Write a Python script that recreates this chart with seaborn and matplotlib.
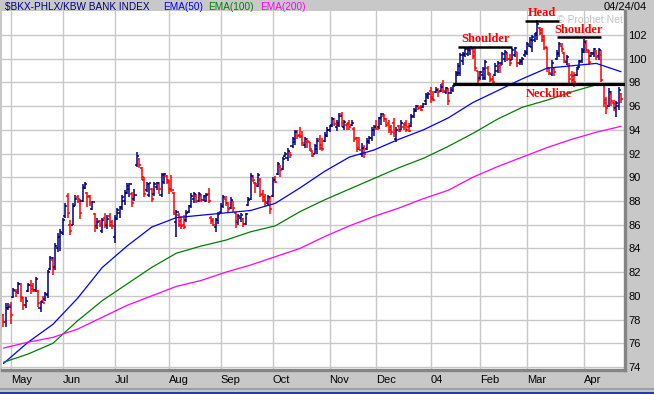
import matplotlib
matplotlib.use('Agg')
import matplotlib.pyplot as plt
import numpy as np
import pandas as pd
import seaborn as sns

# trading days shown on the chart (NYSE holidays removed)
start_date = '2003-04-28'
end_date = '2004-04-23'
holidays = ['2003-05-26', '2003-07-04', '2003-09-01', '2003-11-27', '2003-12-25',
            '2004-01-01', '2004-01-19', '2004-02-16', '2004-04-09']

# daily OHLC of $BKX
opens = [78.4, 77.8, 79.0, 79.2, 79.9, 80.4, 80.3, 81.0, 79.8, 79.2,
         80.4, 80.9, 80.8, 80.5, 80.4, 79.0, 79.6, 79.7, 80.1, 82.3,
         83.0, 82.4, 84.0, 85.0, 85.3, 86.7, 88.4, 86.0, 86.0, 87.6,
         88.3, 88.2, 88.0, 89.1, 88.7, 88.4, 87.3, 86.9, 85.9, 86.3,
         85.5, 86.6, 86.0, 86.7, 86.2, 85.0, 86.6, 87.0, 87.5, 88.0,
         88.7, 89.0, 88.6, 88.2, 91.0, 91.5, 90.8, 89.8, 88.9, 88.5,
         89.0, 88.6, 89.2, 89.4, 88.5, 89.6, 90.1, 89.6, 89.0, 88.7,
         86.2, 86.8, 86.3, 86.0, 86.4, 87.1, 87.6, 88.2, 88.4, 88.0,
         88.4, 88.1, 88.0, 88.6, 86.6, 86.4, 85.8, 86.4, 87.1, 87.6,
         88.2, 87.8, 87.4, 88.0, 87.0, 86.2, 86.6, 86.5, 86.1, 87.7,
         88.2, 90.0, 89.5, 89.3, 89.8, 88.6, 88.3, 87.8, 88.2, 88.4,
         89.9, 90.3, 90.9, 90.7, 91.8, 91.6, 92.1, 92.6, 93.0, 93.9,
         93.6, 93.5, 92.7, 93.0, 93.0, 92.2, 92.0, 92.4, 93.2, 92.7,
         93.1, 93.5, 94.0, 94.4, 94.9, 94.2, 94.4, 95.3, 94.2, 94.4,
         94.6, 94.4, 94.1, 93.3, 92.5, 92.0, 92.4, 92.4, 93.0, 93.3,
         94.0, 94.3, 94.2, 95.0, 95.2, 94.9, 94.6, 94.2, 94.6, 93.2,
         94.3, 94.0, 94.2, 94.6, 94.2, 94.3, 95.2, 95.6, 96.0, 95.9,
         95.9, 96.4, 96.8, 97.3, 96.8, 97.2, 97.4, 97.3, 97.9, 97.2,
         97.4, 97.1, 97.4, 97.9, 98.6, 98.8, 99.8, 100.3, 100.4, 100.7,
         100.8, 100.6, 99.0, 98.4, 98.6, 98.4, 99.2, 98.6, 98.3, 98.6,
         99.0, 99.4, 99.6, 100.0, 100.4, 100.0, 99.9, 100.3, 100.6, 99.6,
         99.7, 100.3, 100.6, 101.1, 101.0, 101.6, 102.2, 102.6, 102.4, 101.8,
         101.0, 99.2, 98.7, 99.2, 100.0, 100.4, 101.1, 100.5, 99.7, 99.4,
         98.6, 98.5, 98.6, 99.3, 99.8, 100.7, 101.2, 100.6, 100.2, 100.4,
         100.6, 100.2, 100.3, 97.9, 96.5, 96.0, 97.0, 96.3, 95.8, 96.0,
         97.0]
highs = [78.5, 79.4, 79.4, 79.5, 80.7, 80.6, 81.2, 81.1, 79.9, 79.9,
         81.1, 81.3, 81.1, 81.6, 80.5, 79.6, 80.0, 80.3, 82.2, 83.4,
         83.3, 84.5, 85.3, 85.6, 86.6, 87.8, 88.7, 86.4, 87.8, 88.5,
         88.5, 88.2, 89.4, 89.6, 88.8, 88.5, 88.0, 87.0, 86.6, 86.4,
         86.6, 87.0, 86.8, 87.0, 86.4, 86.8, 87.4, 87.6, 88.5, 88.9,
         89.5, 89.5, 88.8, 89.0, 92.1, 91.6, 90.9, 90.0, 89.6, 89.5,
         89.1, 89.6, 89.6, 89.6, 90.4, 90.4, 90.2, 89.8, 90.2, 88.8,
         87.2, 87.0, 86.7, 86.8, 87.2, 87.7, 88.7, 88.8, 88.6, 88.8,
         88.6, 88.5, 88.7, 89.1, 86.7, 86.6, 86.6, 87.1, 87.8, 88.5,
         88.4, 87.9, 88.3, 88.0, 87.1, 86.9, 87.0, 86.6, 87.0, 88.3,
         90.4, 90.2, 89.6, 90.4, 89.9, 88.9, 88.6, 88.5, 88.4, 90.0,
         90.1, 91.3, 91.0, 91.7, 92.1, 92.5, 92.1, 93.4, 94.0, 94.0,
         94.2, 93.9, 93.4, 93.3, 93.0, 92.3, 92.8, 93.3, 93.6, 93.3,
         93.8, 94.2, 94.4, 95.1, 95.0, 94.8, 95.4, 95.5, 94.8, 94.6,
         94.8, 94.8, 94.2, 93.4, 93.4, 92.9, 92.7, 93.3, 93.5, 94.2,
         94.4, 94.8, 95.1, 95.4, 95.3, 95.0, 94.8, 94.4, 95.0, 94.2,
         94.4, 94.8, 94.6, 94.8, 94.6, 95.3, 95.8, 96.1, 96.1, 96.1,
         96.3, 97.1, 97.2, 97.6, 97.3, 97.6, 97.5, 97.9, 98.2, 97.6,
         97.5, 97.6, 97.8, 99.0, 99.6, 100.5, 100.6, 101.0, 100.9, 101.0,
         101.0, 101.0, 99.0, 99.0, 99.3, 99.9, 99.4, 98.8, 98.5, 99.6,
         99.8, 99.6, 100.6, 100.7, 100.6, 100.4, 100.9, 101.0, 100.6, 100.0,
         100.1, 100.7, 101.4, 101.8, 102.0, 102.2, 103.3, 102.7, 102.6, 102.0,
         101.0, 99.3, 99.9, 99.3, 100.7, 101.4, 101.3, 100.6, 100.3, 99.6,
         99.0, 98.9, 99.3, 99.9, 100.9, 101.7, 101.6, 100.7, 100.6, 100.9,
         100.7, 100.9, 100.7, 97.9, 96.8, 97.5, 97.3, 96.5, 96.4, 97.6,
         97.1]
lows = [77.4, 77.4, 78.8, 77.6, 79.8, 79.9, 80.2, 79.5, 78.8, 79.0,
        80.3, 80.2, 80.3, 80.3, 79.1, 78.6, 79.4, 79.6, 79.8, 82.2,
        81.8, 82.2, 83.7, 83.8, 85.1, 86.6, 86.6, 85.1, 86.0, 87.6,
        87.8, 86.5, 87.9, 89.0, 87.5, 87.6, 87.2, 85.4, 85.6, 85.8,
        85.3, 85.7, 85.6, 85.8, 85.6, 84.5, 86.4, 86.6, 87.2, 87.7,
        88.6, 88.3, 87.5, 88.0, 90.9, 90.8, 89.8, 88.3, 88.8, 88.3,
        87.9, 88.4, 88.9, 88.6, 88.3, 89.4, 89.4, 88.6, 88.8, 86.8,
        85.0, 85.8, 85.6, 85.6, 86.2, 87.0, 87.4, 87.8, 87.8, 87.9,
        87.9, 88.0, 87.9, 87.8, 86.1, 85.9, 85.4, 86.1, 87.0, 87.4,
        87.6, 87.1, 87.3, 87.1, 85.7, 86.0, 86.2, 85.8, 86.0, 87.6,
        88.1, 89.6, 88.7, 89.2, 88.3, 87.9, 87.6, 87.7, 86.9, 88.3,
        89.5, 90.2, 90.0, 90.6, 91.7, 91.4, 91.6, 92.5, 92.7, 93.2,
        93.3, 92.6, 92.5, 92.5, 92.2, 91.7, 92.0, 92.0, 92.3, 92.2,
        93.0, 93.4, 93.8, 94.2, 94.3, 93.9, 94.2, 94.2, 94.0, 94.0,
        94.0, 94.3, 93.0, 92.1, 92.3, 91.7, 91.6, 92.3, 92.8, 93.1,
        93.5, 94.0, 94.1, 94.4, 94.7, 94.2, 93.7, 93.6, 93.4, 93.0,
        93.8, 94.0, 94.0, 93.8, 93.8, 94.2, 95.0, 95.5, 95.7, 95.6,
        95.8, 96.1, 96.6, 96.3, 96.4, 97.1, 96.8, 97.2, 97.1, 97.0,
        96.1, 97.0, 97.2, 97.8, 98.5, 98.5, 99.5, 100.1, 100.2, 100.3,
        100.0, 99.0, 97.8, 98.2, 98.2, 98.2, 98.6, 98.0, 97.8, 98.5,
        98.8, 98.8, 99.5, 99.7, 99.8, 99.4, 99.9, 100.1, 99.3, 99.5,
        99.5, 100.1, 100.3, 101.0, 100.6, 101.4, 101.6, 102.0, 101.4, 100.7,
        98.9, 98.6, 98.5, 98.5, 99.9, 100.1, 100.6, 99.6, 99.5, 97.9,
        97.9, 97.6, 98.5, 99.2, 99.6, 100.5, 100.5, 99.5, 100.1, 100.1,
        99.9, 99.9, 98.0, 95.9, 95.3, 95.9, 96.0, 95.6, 95.1, 95.7,
        96.3]
closes = [77.8, 79.0, 79.1, 78.4, 80.5, 80.3, 81.0, 79.9, 79.2, 79.6,
          80.9, 80.6, 80.4, 81.4, 79.4, 79.5, 79.4, 80.2, 82.0, 83.2,
          82.3, 84.2, 85.0, 85.4, 86.4, 87.6, 87.0, 85.5, 87.6, 88.2,
          88.0, 87.0, 89.2, 89.4, 88.3, 87.8, 87.9, 85.8, 86.2, 86.0,
          86.4, 86.1, 86.5, 86.0, 85.9, 86.5, 87.2, 87.4, 88.3, 88.7,
          89.3, 89.4, 87.8, 88.5, 91.8, 91.0, 90.0, 88.6, 89.4, 89.5,
          88.2, 89.4, 89.5, 89.0, 90.2, 90.3, 89.8, 89.0, 88.9, 87.0,
          87.1, 86.0, 85.9, 85.8, 87.0, 87.6, 88.4, 88.6, 88.0, 88.6,
          88.1, 88.4, 88.5, 88.0, 86.3, 86.0, 86.4, 86.9, 87.6, 88.3,
          87.8, 87.3, 88.1, 87.4, 86.3, 86.7, 86.8, 86.1, 86.9, 88.1,
          90.1, 89.8, 89.4, 90.2, 88.5, 88.1, 87.9, 88.3, 87.3, 89.8,
          89.6, 91.1, 90.6, 91.5, 92.0, 92.2, 91.9, 93.2, 93.8, 93.5,
          93.4, 92.9, 93.2, 93.1, 92.4, 91.8, 92.6, 93.1, 92.5, 92.4,
          93.6, 94.0, 94.3, 94.9, 94.5, 94.6, 95.2, 94.6, 94.7, 94.5,
          94.2, 94.6, 93.2, 92.4, 92.3, 92.5, 92.0, 93.1, 93.3, 94.0,
          94.2, 94.1, 95.0, 95.3, 94.9, 94.4, 94.0, 93.8, 93.7, 94.0,
          93.9, 94.6, 94.4, 94.0, 93.9, 95.1, 95.7, 96.0, 95.8, 95.7,
          96.2, 96.9, 97.0, 96.6, 96.5, 97.4, 97.2, 97.6, 97.3, 97.5,
          96.4, 97.4, 97.7, 98.8, 99.4, 100.3, 100.4, 100.8, 100.9, 100.95,
          100.2, 99.2, 98.2, 98.9, 99.1, 99.7, 98.8, 98.2, 98.0, 99.4,
          99.6, 99.5, 100.4, 100.6, 100.0, 99.6, 100.7, 100.9, 99.6, 99.8,
          100.0, 100.5, 101.2, 101.6, 101.8, 102.0, 102.9, 102.2, 101.6, 100.9,
          99.2, 98.8, 99.6, 98.9, 100.5, 101.2, 100.8, 99.8, 100.1, 98.3,
          98.2, 98.0, 99.1, 99.7, 100.6, 101.4, 100.7, 99.7, 100.5, 100.8,
          100.1, 100.7, 98.2, 96.3, 95.8, 97.2, 96.4, 96.2, 96.3, 97.4,
          96.6]

month_labels = ['May', 'Jun', 'Jul', 'Aug', 'Sep', 'Oct', 'Nov', 'Dec', '04', 'Feb', 'Mar', 'Apr']
y_ticks = [74, 76, 78, 80, 82, 84, 86, 88, 90, 92, 94, 96, 98, 100, 102]

# moving averages, read every 10th trading day
ema_days = list(range(0, 251, 10))
ema50 = [74.3, 76.1, 77.6, 79.8, 82.4, 84.2, 85.8, 86.6, 86.8, 87.0, 87.2, 87.8, 89.1,
         90.5, 91.7, 92.3, 93.2, 94.0, 95.0, 96.3, 97.3, 98.3, 99.2, 99.4, 99.6, 98.9]
ema100 = [74.4, 75.1, 76.0, 77.9, 79.6, 81.0, 82.4, 83.6, 84.2, 84.7, 85.4, 85.9, 87.1,
          88.1, 89.0, 89.9, 90.8, 91.6, 92.6, 93.7, 94.9, 95.9, 96.5, 97.2, 97.8, 97.8]
ema200 = [75.6, 76.1, 76.5, 77.2, 78.2, 79.2, 80.0, 80.8, 81.3, 82.0, 82.6, 83.3, 84.0,
          85.0, 85.9, 86.7, 87.4, 88.2, 88.9, 90.0, 90.9, 91.7, 92.5, 93.2, 93.8, 94.3]

# head & shoulders markup
pattern_names = ['Shoulder', 'Head', 'Shoulder']
pattern_start = ['2004-01-20', '2004-02-27', '2004-03-17']
pattern_end = ['2004-02-20', '2004-03-18', '2004-04-13']
pattern_level = [101.0, 103.2, 101.8]
neckline_start = '2004-01-15'
neckline_label_day = '2004-03-12'
neckline_level = 97.85

# ---------------------------------------------------------------
dates = pd.bdate_range(start_date, end_date, freq='C', holidays=holidays)
x = np.arange(len(dates))
month_pos = np.where(dates.month != np.roll(dates.month, 1))[0]


def day_of(s):
    return dates.searchsorted(pd.Timestamp(s))


sns.set_theme(style='white')
plt.rcParams['font.family'] = ['Liberation Sans', 'DejaVu Sans']

W, H = 654, 394
fig = plt.figure(figsize=(W / 100, H / 100), dpi=100, facecolor='#c8c8c8')
ax = fig.add_axes([2 / W, 24 / H, 623 / W, 359 / H])
ax.set_facecolor('white')

# OHLC bars: navy when the close is up, red when down
prev = np.r_[opens[0], closes[:-1]]
cols = np.where(np.array(closes) >= prev, '#000080', '#ff0000')
ax.vlines(x, lows, highs, colors=cols, lw=1.1, zorder=2)
ax.hlines(opens, x - 0.85, x, colors=cols, lw=1.1, zorder=2)
ax.hlines(closes, x, x + 0.85, colors=cols, lw=1.1, zorder=2)

ema_df = pd.DataFrame({
    'day': ema_days * 3,
    'value': ema50 + ema100 + ema200,
    'series': ['EMA(50)'] * len(ema50) + ['EMA(100)'] * len(ema100) + ['EMA(200)'] * len(ema200),
})
sns.lineplot(data=ema_df, x='day', y='value', hue='series', ax=ax, legend=False,
             palette={'EMA(50)': '#0000ff', 'EMA(100)': '#008000', 'EMA(200)': '#ff00ff'},
             lw=0.9, zorder=3)

ax.set_xlim(-0.6, 251.6)
ax.set_ylim(73.75, 104.02)

# pattern lines and labels
for name, s, e, lvl in zip(pattern_names, pattern_start, pattern_end, pattern_level):
    a, b = day_of(s), day_of(e)
    ax.plot([a, b], [lvl, lvl], color='black', lw=1.8, zorder=4, solid_capstyle='butt')
    ax.text((a + b) / 2, lvl + 0.12, name, ha='center', va='bottom', color='#ff0000',
            fontsize=9, fontweight='bold', family='Liberation Serif', zorder=5)
ax.plot([day_of(neckline_start), 251.6], [neckline_level] * 2, color='black', lw=2.3, zorder=4,
        solid_capstyle='butt')
ax.text(day_of(neckline_label_day), neckline_level - 0.3, 'Neckline', ha='center', va='top',
        color='#ff0000', fontsize=9, fontweight='bold', family='Liberation Serif', zorder=5)
ax.text(0.996, 0.975, '\u00a9 Prophet.Net', transform=ax.transAxes, ha='right', va='center',
        color='#c4c4c4', fontsize=7.5, zorder=1)

# axes styling
ax.set_xticks(month_pos)
ax.set_xticklabels(month_labels, ha='left')
ax.set_yticks(y_ticks)
ax.yaxis.tick_right()
ax.grid(True, color='#c8c8c8', lw=1)
ax.set_axisbelow(True)
ax.tick_params(axis='x', length=0, pad=3.5, labelsize=8, colors='black')
ax.tick_params(axis='y', length=0, pad=2.5, labelsize=8, colors='black')
ax.set_xlabel('')
ax.set_ylabel('')
for side in ['top', 'left']:
    ax.spines[side].set_visible(False)
for side in ['bottom', 'right']:
    ax.spines[side].set_color('#858585')
    ax.spines[side].set_linewidth(2.4)

# header strip
fig.text(5 / W, 1 - 7 / H, '$BKX-PHLX/KBW BANK INDEX', color='#000080', fontsize=7.2,
         va='center', ha='left')
fig.text(163 / W, 1 - 7 / H, 'EMA(50)', color='#0000ff', fontsize=7.2, va='center')
fig.text(208 / W, 1 - 7 / H, 'EMA(100)', color='#008000', fontsize=7.2, va='center')
fig.text(260 / W, 1 - 7 / H, 'EMA(200)', color='#ff00ff', fontsize=7.2, va='center')
fig.text(647 / W, 1 - 7 / H, '04/24/04', color='black', fontsize=8, va='center', ha='right')

# bottom border of the panel
fig.add_artist(plt.Line2D([0, 1], [5 / H, 5 / H], color='#a0a0a0', lw=1.5))
fig.add_artist(plt.Line2D([0, 1], [1 / H, 1 / H], color='#2040a0', lw=1.5))

fig.savefig('out.png', dpi=100, facecolor=fig.get_facecolor())
